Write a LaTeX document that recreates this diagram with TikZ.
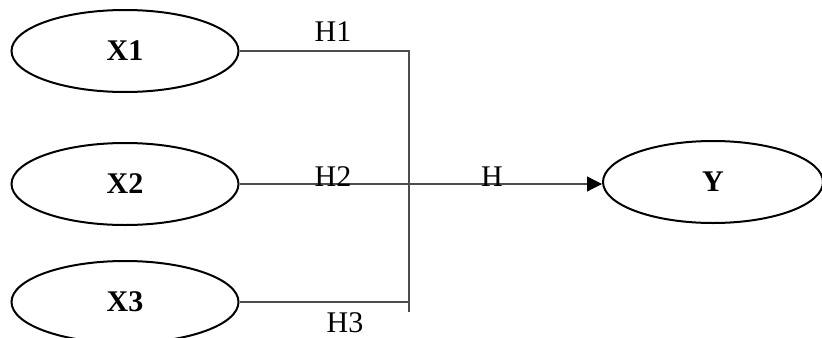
\documentclass[tikz,border=0pt]{standalone}
\usepackage{fontspec}
\setmainfont{Liberation Serif}
\usepackage{tikz}
\usetikzlibrary{arrows.meta, positioning, shapes.geometric}
\tikzset{
  varnode/.style={ellipse,draw=black,line width=1pt,inner sep=0pt,minimum width=113.5pt,minimum height=41pt,font=\fontsize{15}{17}\selectfont\bfseries},
  link/.style={draw=black!70,line width=0.6pt},
  arr/.style={link,-{Triangle[length=7.5pt,width=7.5pt,color=black]}},
  hlabel/.style={font=\fontsize{15}{17}\selectfont,inner sep=0pt}
}
\begin{document}
\begin{tikzpicture}[x=0.5pt,y=-0.5pt]
  \useasboundingbox (0,0) rectangle (822,337);
  \clip (0,0) rectangle (822,337);
  % variables
  \node[varnode] (x1) at (125,51) {X1};
  \node[varnode] (x2) at (125,184) {X2};
  \node[varnode] (x3) at (125,302) {X3};
  \node[varnode,minimum width=110pt] (y) at (713,182) {Y};

  % junction
  \coordinate (jt) at (409,51);
  \coordinate (jb) at (409,312);
  \draw[link] (x1.east) -- (jt) -- (jb);
  \draw[link] (x3.east) -- (x3.east -| jt);
  \draw[arr] (x2.east) -- (x2.east -| y.west);

  % labels
  \node[hlabel] (h1) at (333,32) {H1};
  \node[hlabel] (h2) at (333,177) {H2};
  \node[hlabel] (h) at (492,177) {H};
  \node[hlabel] (h3) at (345,323) {H3};
\end{tikzpicture}
\end{document}
